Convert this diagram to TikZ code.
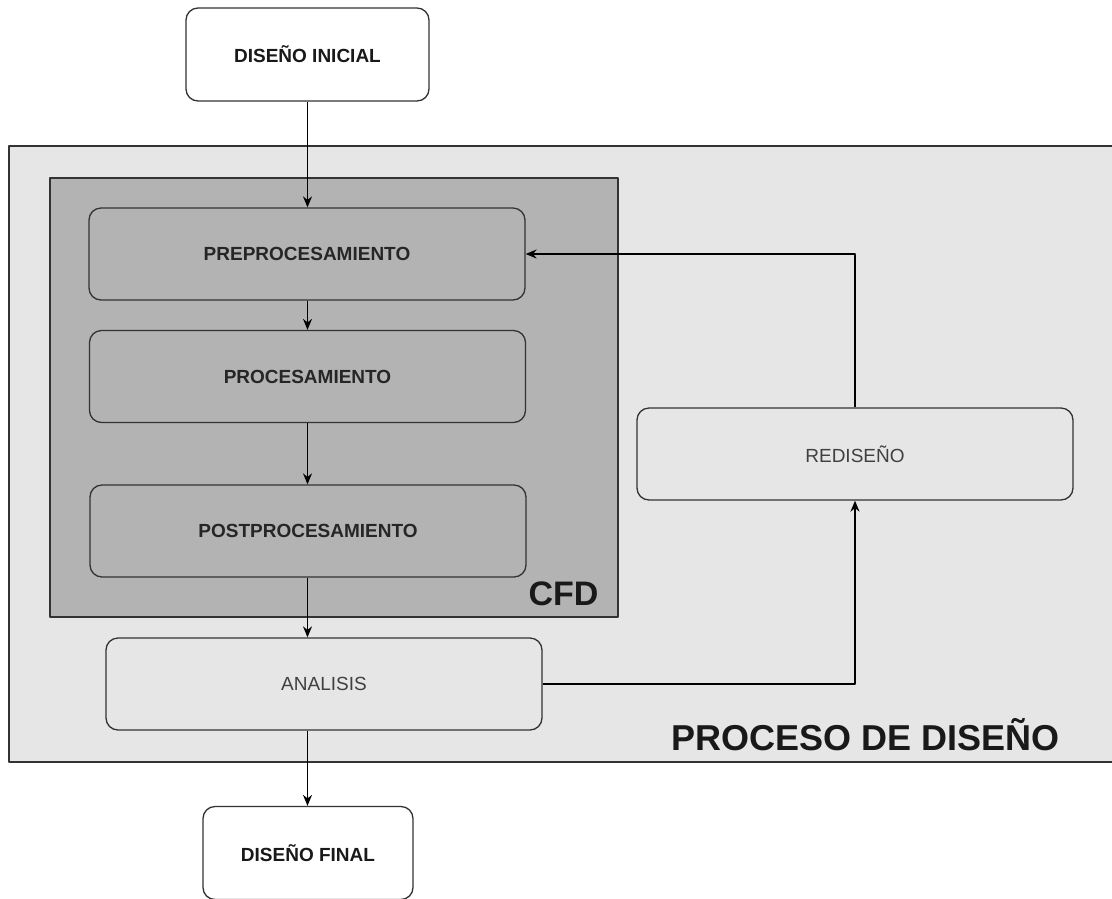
\documentclass[tikz,border=0pt]{standalone}
\usepackage{fontspec}
\setmainfont{Liberation Sans}
\usetikzlibrary{arrows.meta}

\definecolor{areagray}{HTML}{E6E6E6}
\definecolor{cfdgray}{HTML}{B3B3B3}
\definecolor{edgegray}{HTML}{333333}

\begin{document}
\begin{tikzpicture}[
  x=1pt, y=-1pt,
  line join=round,
  box/.style={draw=edgegray, line width=1.3pt, rounded corners=12pt,
    inner sep=0pt, minimum width=436pt, minimum height=92pt,
    font=\fontsize{19}{22}\selectfont},
  endbox/.style={box, fill=white, minimum width=243pt, minimum height=93pt,
    font=\fontsize{19}{22}\selectfont\bfseries, text=black!90},
  procbox/.style={box, fill=cfdgray, font=\fontsize{19}{22}\selectfont\bfseries,
    text=black!85},
  lightbox/.style={box, fill=areagray, text=black!75},
  area/.style={draw=edgegray, line width=1.5pt},
  arr/.style={draw=black, line width=1.3pt, -{Stealth[length=11pt,width=9pt]}},
  tag/.style={anchor=base east, font=\bfseries, text=black!90},
]
\useasboundingbox (0,0) rectangle (1112,898);

% ── the two areas ─────────────────────────────────────────────────────────
\fill[areagray] (9,146) rectangle (1112,762);
\draw[area] (1112,146) -- (9,146) -- (9,762) -- (1112,762);
\draw[area, fill=cfdgray] (50,178) rectangle (618,617);

% ── the steps ─────────────────────────────────────────────────────────────
\node[endbox] (ini) at (307.5,54.5) {DISEÑO INICIAL};
\node[procbox] (pre) at (307,254) {PREPROCESAMIENTO};
\node[procbox] (proc) at (307.5,376.5) {PROCESAMIENTO};
\node[procbox] (post) at (308,531) {POSTPROCESAMIENTO};
\node[lightbox] (ana) at (324,684) {ANALISIS};
\node[lightbox] (red) at (855,454) {REDISEÑO};
\node[endbox, minimum width=210pt] (fin) at (308,853) {DISEÑO FINAL};

% ── the flow ──────────────────────────────────────────────────────────────
\foreach \a/\b in {ini/pre, pre/proc, proc/post, post/ana, ana/fin}
  { \draw[arr] (\a.south -| ini) -- (\b.north -| ini); }
\draw[arr] (ana.east) -| (red.south);
\draw[arr] (red.north) |- (pre.east);

% ── the area names ────────────────────────────────────────────────────────
\node[tag, font=\fontsize{34}{38}\selectfont\bfseries] (cfd) at (602,605) {CFD};
\node[tag, font=\fontsize{36}{40}\selectfont\bfseries] (proceso) at (1063,750)
  {PROCESO DE DISEÑO};

\end{tikzpicture}
\end{document}
